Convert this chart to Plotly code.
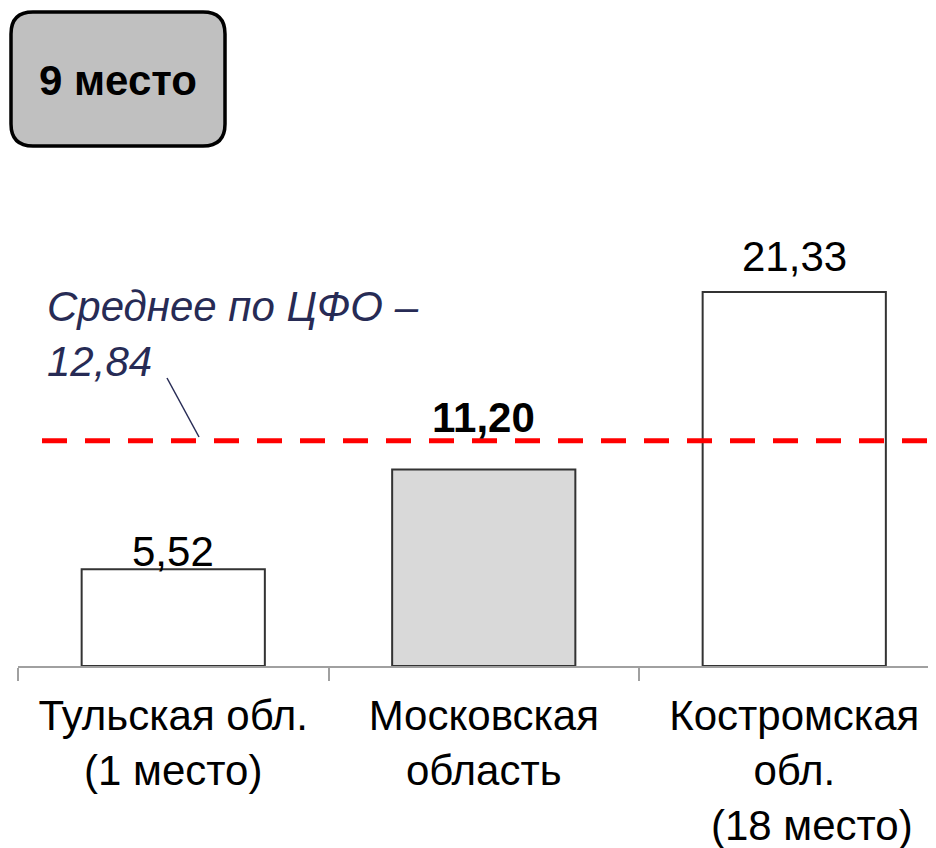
import plotly.graph_objects as go

# ---- data ----
categories = ["Тульская обл.", "Московская область", "Костромская обл."]
tick_labels = ["Тульская обл.<br>(1 место)", "Московская<br>область",
               "Костромская<br>обл.<br>\u00a0\u00a0\u00a0(18 место)"]
values = [5.52, 11.20, 21.33]
value_labels = ["5,52", "11,20", "21,33"]
label_bold = [False, True, False]
bar_colors = ["#FFFFFF", "#D9D9D9", "#FFFFFF"]
average_value = 12.84
average_label = "Среднее по ЦФО –<br>" + f"{average_value:.2f}".replace(".", ",")
rank_text = "9 место"

# ---- layout geometry (pixels, page coordinates; body has 8px margin) ----
OFF = 8
W, H = 936, 848
BASE = 666 - OFF            # axis line inside figure
ML, MR, MT, MB = 18 - OFF, 0, 0, H - BASE
PW, PH = W - ML - MR, BASE
FONT = "Liberation Sans, Arial, sans-serif"
FS = 42


def px_x(p):
    return (p - OFF - ML) / PW


def px_y(p):
    return (BASE - (p - OFF)) / PH


fig = go.Figure()
fig.add_trace(go.Bar(
    x=categories, y=values, width=0.59,
    marker=dict(color=bar_colors, line=dict(color="#333333", width=2)),
    hoverinfo="skip",
))

# value labels
shifts = [-8, 27, 10]
for c, v, t, b, s in zip(categories, values, value_labels, label_bold, shifts):
    fig.add_annotation(x=c, y=v, xref="x", yref="y",
                       text=f"<b>{t}</b>" if b else t, showarrow=False,
                       yanchor="bottom", yshift=s,
                       font=dict(family=FONT, size=FS, color="#000000"))

# average dashed line
fig.add_shape(type="line", xref="paper", yref="y",
              x0=px_x(42), x1=px_x(960), y0=average_value, y1=average_value,
              line=dict(color="#FF0000", width=5, dash="25px,18px"))

# average label + leader
fig.add_annotation(xref="paper", yref="paper", x=px_x(45), y=px_y(281),
                   xanchor="left", yanchor="top", align="left", showarrow=False,
                   text=f"<i>{average_label}</i>",
                   font=dict(family=FONT, size=FS, color="#272B55"))
fig.add_shape(type="line", xref="paper", yref="paper",
              x0=px_x(167), y0=px_y(378), x1=px_x(199), y1=px_y(437),
              line=dict(color="#272B55", width=1.5))

# rank box (rounded rectangle)
x0, x1, y0, y1, r = 11, 225, 12, 146, 22


def P(x, y):
    return f"{px_x(x)},{px_y(y)}"


path = (f"M {P(x0 + r, y0)} L {P(x1 - r, y0)} Q {P(x1, y0)} {P(x1, y0 + r)} "
        f"L {P(x1, y1 - r)} Q {P(x1, y1)} {P(x1 - r, y1)} "
        f"L {P(x0 + r, y1)} Q {P(x0, y1)} {P(x0, y1 - r)} "
        f"L {P(x0, y0 + r)} Q {P(x0, y0)} {P(x0 + r, y0)} Z")
fig.add_shape(type="path", xref="paper", yref="paper", path=path,
              fillcolor="#C0C0C0", line=dict(color="#000000", width=3.5))
fig.add_annotation(xref="paper", yref="paper", x=px_x(118), y=px_y(80),
                   xanchor="center", yanchor="middle", showarrow=False,
                   text=f"<b>{rank_text}</b>",
                   font=dict(family=FONT, size=FS, color="#000000"))

fig.update_layout(
    width=W, height=H, margin=dict(l=ML, r=MR, t=MT, b=MB),
    paper_bgcolor="white", plot_bgcolor="white", showlegend=False,
    font=dict(family=FONT, size=FS, color="#000000"),
    xaxis=dict(type="category", range=[-0.5, -0.5 + PW / 310.5],
               tickmode="array", tickvals=categories, ticktext=tick_labels,
               tickson="boundaries", ticks="outside", ticklen=13, tickwidth=2,
               tickcolor="#A0A0A0", showline=True, linecolor="#A0A0A0", linewidth=2,
               ticklabelstandoff=12,
               showgrid=False, zeroline=False, fixedrange=True,
               tickfont=dict(family=FONT, size=FS, color="#000000")),
    yaxis=dict(range=[0, PH / (374 / 21.33)], visible=False, showgrid=False,
               zeroline=False, fixedrange=True),
)

fig.write_html("out.html")
